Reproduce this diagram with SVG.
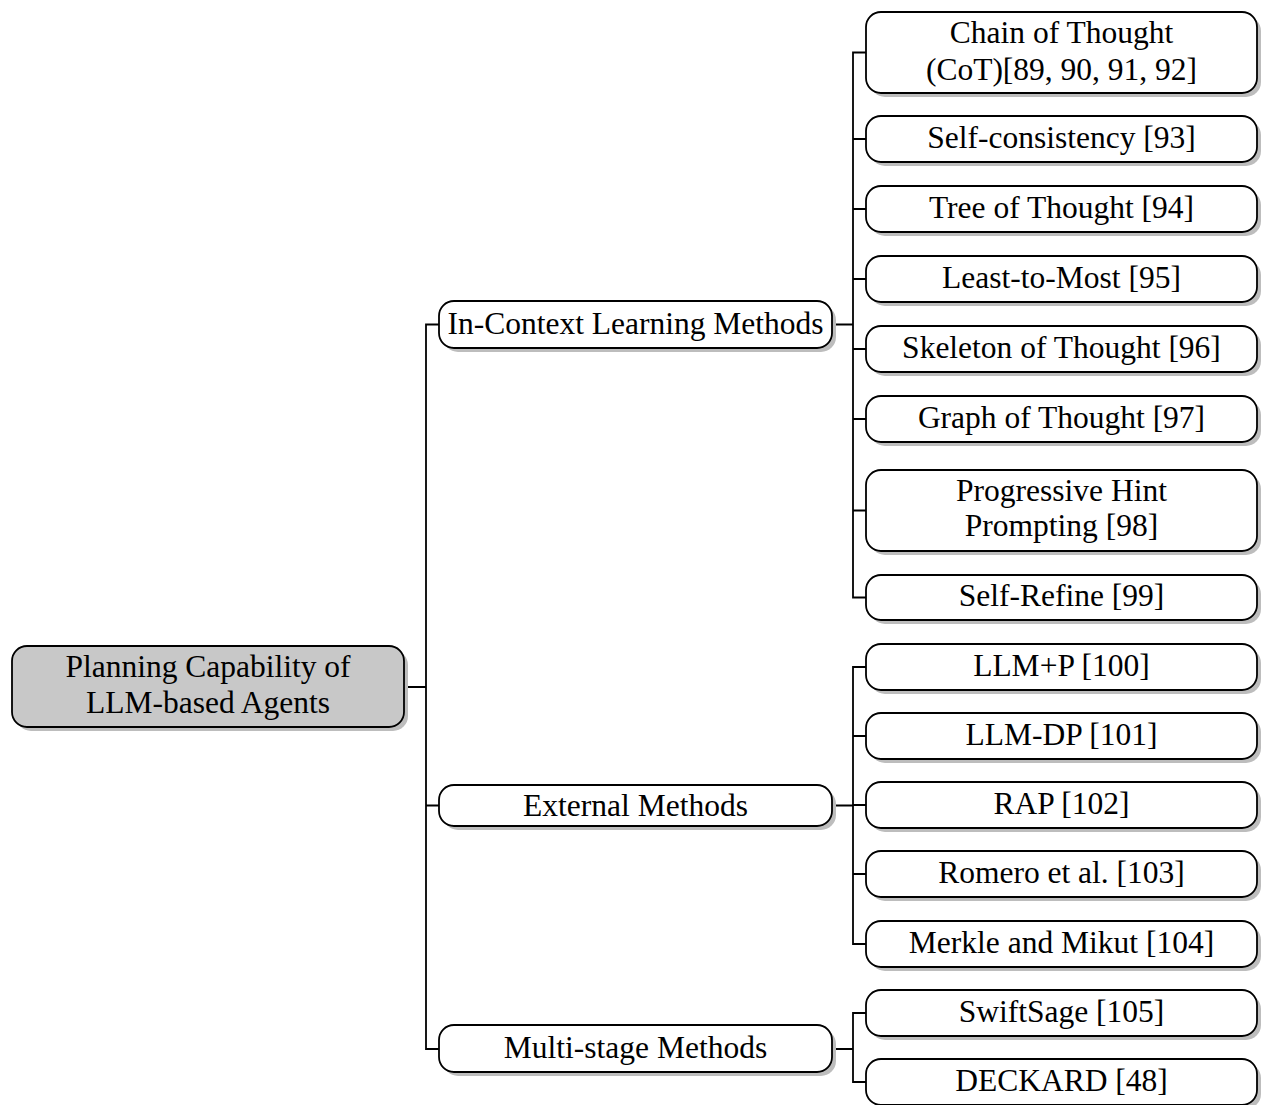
<svg xmlns="http://www.w3.org/2000/svg" width="1264" height="1105" viewBox="0 0 1264 1105">
<style>
.box{fill:#ffffff;stroke:#000000;stroke-width:1.8}
.root{fill:#c8c8c8;stroke:#000000;stroke-width:1.8}
.sh{fill:#bdbdbd;stroke:none}
.t{font-family:"Liberation Serif","Times New Roman",serif;font-size:31.5px;fill:#000000;text-anchor:middle}
.c{fill:none;stroke:#000000;stroke-width:1.8}
</style>
<rect width="1264" height="1105" fill="#ffffff"/>
<g id="connectors">
<path class="c" d="M404 687 H426 M439 324.5 H426 V1049 H439 M426 805.5 H439"/>
<path class="c" d="M832 324.5 H853 M866 52.5 H853 V597.5 H866 M853 139 H866 M853 209 H866 M853 279 H866 M853 349 H866 M853 419 H866 M853 510.5 H866"/>
<path class="c" d="M832 805.5 H853 M866 667 H853 V944 H866 M853 736 H866 M853 805 H866 M853 874 H866"/>
<path class="c" d="M832 1049 H853 M866 1013 H853 V1082 H866"/>
</g>
<g id="root">
<rect class="sh" x="16" y="650" width="392" height="81" rx="15"/>
<rect class="root" x="12" y="646" width="392" height="81" rx="15"/>
<text class="t" x="208" y="677">Planning Capability of</text>
<text class="t" x="208" y="713">LLM-based Agents</text>
</g>
<g id="in-context">
<rect class="sh" x="443" y="305" width="393" height="47" rx="15"/>
<rect class="box" x="439" y="301" width="393" height="47" rx="15"/>
<text class="t" x="635.5" y="334">In-Context Learning Methods</text>
</g>
<g id="external">
<rect class="sh" x="443" y="789" width="393" height="41" rx="15"/>
<rect class="box" x="439" y="785" width="393" height="41" rx="15"/>
<text class="t" x="635.5" y="816">External Methods</text>
</g>
<g id="multi-stage">
<rect class="sh" x="443" y="1029" width="393" height="47" rx="15"/>
<rect class="box" x="439" y="1025" width="393" height="47" rx="15"/>
<text class="t" x="635.5" y="1058">Multi-stage Methods</text>
</g>
<g id="cot">
<rect class="sh" x="870" y="16" width="391" height="81" rx="15"/>
<rect class="box" x="866" y="12" width="391" height="81" rx="15"/>
<text class="t" x="1061.5" y="43">Chain of Thought</text>
<text class="t" x="1061.5" y="80">(CoT)[89, 90, 91, 92]</text>
</g>
<g id="self-consistency">
<rect class="sh" x="870" y="120" width="391" height="46" rx="15"/>
<rect class="box" x="866" y="116" width="391" height="46" rx="15"/>
<text class="t" x="1061.5" y="148">Self-consistency [93]</text>
</g>
<g id="tot">
<rect class="sh" x="870" y="190" width="391" height="46" rx="15"/>
<rect class="box" x="866" y="186" width="391" height="46" rx="15"/>
<text class="t" x="1061.5" y="218">Tree of Thought [94]</text>
</g>
<g id="least-to-most">
<rect class="sh" x="870" y="260" width="391" height="46" rx="15"/>
<rect class="box" x="866" y="256" width="391" height="46" rx="15"/>
<text class="t" x="1061.5" y="288">Least-to-Most [95]</text>
</g>
<g id="skeleton">
<rect class="sh" x="870" y="330" width="391" height="46" rx="15"/>
<rect class="box" x="866" y="326" width="391" height="46" rx="15"/>
<text class="t" x="1061.5" y="358">Skeleton of Thought [96]</text>
</g>
<g id="got">
<rect class="sh" x="870" y="400" width="391" height="46" rx="15"/>
<rect class="box" x="866" y="396" width="391" height="46" rx="15"/>
<text class="t" x="1061.5" y="428">Graph of Thought [97]</text>
</g>
<g id="progressive-hint">
<rect class="sh" x="870" y="474" width="391" height="81" rx="15"/>
<rect class="box" x="866" y="470" width="391" height="81" rx="15"/>
<text class="t" x="1061.5" y="501">Progressive Hint</text>
<text class="t" x="1061.5" y="536">Prompting [98]</text>
</g>
<g id="self-refine">
<rect class="sh" x="870" y="579" width="391" height="45" rx="15"/>
<rect class="box" x="866" y="575" width="391" height="45" rx="15"/>
<text class="t" x="1061.5" y="606">Self-Refine [99]</text>
</g>
<g id="llm-p">
<rect class="sh" x="870" y="648" width="391" height="46" rx="15"/>
<rect class="box" x="866" y="644" width="391" height="46" rx="15"/>
<text class="t" x="1061.5" y="676">LLM+P [100]</text>
</g>
<g id="llm-dp">
<rect class="sh" x="870" y="717" width="391" height="46" rx="15"/>
<rect class="box" x="866" y="713" width="391" height="46" rx="15"/>
<text class="t" x="1061.5" y="745">LLM-DP [101]</text>
</g>
<g id="rap">
<rect class="sh" x="870" y="786" width="391" height="46" rx="15"/>
<rect class="box" x="866" y="782" width="391" height="46" rx="15"/>
<text class="t" x="1061.5" y="814">RAP [102]</text>
</g>
<g id="romero">
<rect class="sh" x="870" y="855" width="391" height="46" rx="15"/>
<rect class="box" x="866" y="851" width="391" height="46" rx="15"/>
<text class="t" x="1061.5" y="883">Romero et al. [103]</text>
</g>
<g id="merkle">
<rect class="sh" x="870" y="925" width="391" height="46" rx="15"/>
<rect class="box" x="866" y="921" width="391" height="46" rx="15"/>
<text class="t" x="1061.5" y="953">Merkle and Mikut [104]</text>
</g>
<g id="swiftsage">
<rect class="sh" x="870" y="994" width="391" height="46" rx="15"/>
<rect class="box" x="866" y="990" width="391" height="46" rx="15"/>
<text class="t" x="1061.5" y="1022">SwiftSage [105]</text>
</g>
<g id="deckard">
<rect class="sh" x="870" y="1063" width="391" height="46" rx="15"/>
<rect class="box" x="866" y="1059" width="391" height="46" rx="15"/>
<text class="t" x="1061.5" y="1091">DECKARD [48]</text>
</g>
</svg>
